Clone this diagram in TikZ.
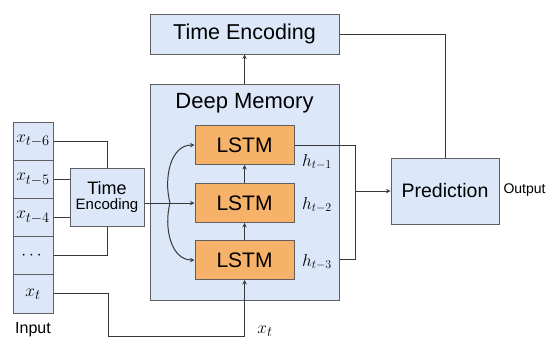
\documentclass[tikz,border=0pt]{standalone}
\usepackage[no-math]{fontspec}
\setmainfont{Liberation Sans}
\usepackage{amsmath}
\definecolor{DMBlue}{RGB}{220,232,250}
\definecolor{DMOrange}{RGB}{245,178,104}
\definecolor{DMEdge}{RGB}{95,95,95}
\definecolor{DMLine}{RGB}{55,55,55}
\tikzset{
  bluebox/.style={draw=DMEdge,fill=DMBlue,line width=1pt,inner sep=0pt},
  lstmbox/.style={draw=DMEdge,fill=DMOrange,line width=1pt,inner sep=0pt,
    minimum width=99pt,minimum height=39pt,font=\fontsize{21}{24}\selectfont},
  cellbox/.style={bluebox,minimum width=40pt,minimum height=38.2pt,font=\fontsize{19}{21}\selectfont},
  hlabel/.style={font=\fontsize{17}{19}\selectfont},
  wire/.style={DMLine,line width=1pt},
}
\begin{document}
\begin{tikzpicture}[x=1pt,y=-1pt,>=stealth]
  \useasboundingbox (0,0) rectangle (548,343);
  % main blocks
  \node[bluebox,minimum width=189pt,minimum height=40pt,font=\fontsize{21.5}{24}\selectfont] (topenc) at (244.5,34) {Time Encoding};
  \node[bluebox,minimum width=189pt,minimum height=216pt] (deepmem) at (244.5,192) {};
  \node[font=\fontsize{22}{24}\selectfont] (dmtitle) at (244.5,103) {Deep Memory};
  \node[lstmbox] (lstmA) at (244.5,145) {LSTM};
  \node[lstmbox] (lstmB) at (244.5,203) {LSTM};
  \node[lstmbox] (lstmC) at (244.5,260) {LSTM};
  \node[hlabel] (hA) at (317,162) {$h_{t-1}$};
  \node[hlabel] (hB) at (317,205) {$h_{t-2}$};
  \node[hlabel] (hC) at (317,262) {$h_{t-3}$};
  \node[bluebox,minimum width=108pt,minimum height=66pt,font=\fontsize{19.5}{22}\selectfont] (pred) at (445,191) {Prediction};
  \node[font=\fontsize{14}{16}\selectfont,anchor=west] (output) at (500,190) {Output};
  % input column
  \node[cellbox] (in6) at (33,141.1) {$x_{t-6}$};
  \node[cellbox] (in5) at (33,179.3) {$x_{t-5}$};
  \node[cellbox] (in4) at (33,217.5) {$x_{t-4}$};
  \node[cellbox] (indots) at (33,255.7) {$\cdots$};
  \node[cellbox] (inT) at (33,293.9) {$x_t$};
  \node[font=\fontsize{16}{18}\selectfont] (input) at (33,330) {Input};
  \node[bluebox,minimum width=74pt,minimum height=58pt,align=center] (smallenc) at (107,197)
    {{\fontsize{18}{20}\selectfont Time}\\[3pt]{\fontsize{15}{17}\selectfont Encoding}};
  \node[font=\fontsize{19}{21}\selectfont] (xtlab) at (265,331) {$x_t$};
  % connectors
  \coordinate (branch) at (170,203);
  \coordinate (brktop) at (355,145);
  \coordinate (brkbot) at (355,259);
  \coordinate (brkmid) at (355,191);
  \coordinate (xtturn) at (108,336);
  \draw[wire,->] (deepmem.north) -- (topenc.south);
  \draw[wire] (topenc.east) -| (pred.north);
  \draw[wire,->] (lstmC.north) -- (lstmB.south);
  \draw[wire,->] (lstmB.north) -- (lstmA.south);
  \draw[wire] (lstmA.east) -- (brktop) -- (brkbot) -- (deepmem.east |- brkbot);
  \draw[wire,->] (brkmid) -- (pred.west);
  \draw[wire] (in6.east) -| (smallenc.north);
  \draw[wire] (in5.east) -- (smallenc.west |- in5.east);
  \draw[wire] (in4.east) -- (smallenc.west |- in4.east);
  \draw[wire] (indots.east) -| (smallenc.south);
  \draw[wire,->] (inT.east) -| (xtturn) -| (lstmC.south);
  \draw[wire] (smallenc.east |- branch) -- (branch);
  \draw[wire,->] (branch) -- (lstmB.west);
  \draw[wire,->] (branch) to[out=105,in=180] (lstmA.west);
  \draw[wire,->] (branch) to[out=-105,in=180] (lstmC.west);
\end{tikzpicture}
\end{document}
